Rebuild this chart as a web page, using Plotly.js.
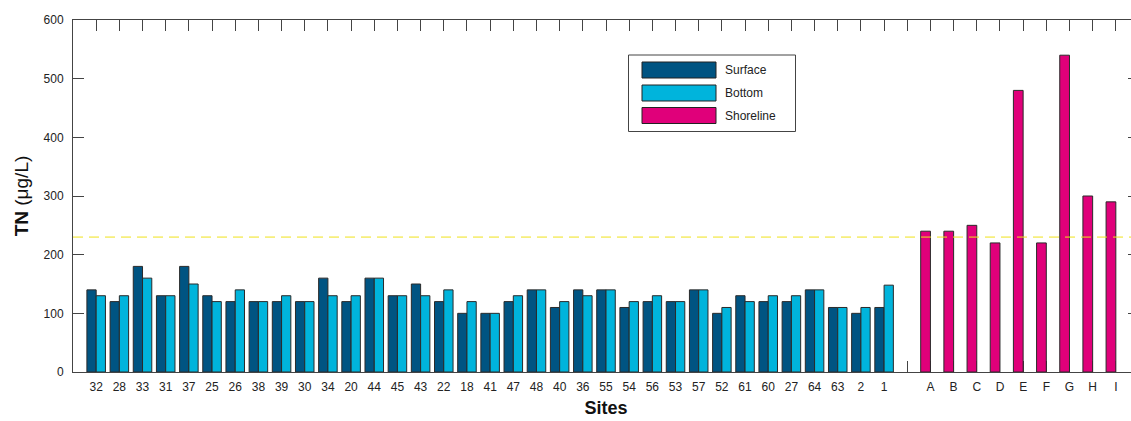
<!DOCTYPE html>
<html>
<head>
<meta charset="utf-8">
<script src="https://cdn.plot.ly/plotly-3.0.1.min.js"></script>
<style>
html, body { margin: 0; padding: 0; overflow: hidden; background: #fff; }
#chart { width: 1150px; height: 421px; }
</style>
</head>
<body>
<div id="chart"></div>
<script>
// Categories (blank slot separates lake sites from shoreline sites)
const sites = ["32","28","33","31","37","25","26","38","39","30","34","20","44","45","43","22","18","41","47","48","40","36","55","54","56","53","57","52","61","60","27","64","63","2","1"];
const blankSlot = [" "];
const shoreSites = ["A","B","C","D","E","F","G","H","I"];

// Values (µg/L)
const surface = [140,120,180,130,180,130,120,120,120,120,160,120,160,130,150,120,100,100,120,140,110,140,140,110,120,120,140,100,130,120,120,140,110,100,110];
const bottom  = [130,130,160,130,150,120,140,120,130,120,130,130,160,130,130,140,120,100,130,140,120,130,140,120,130,120,140,110,120,130,130,140,110,110,148];
const shoreline = [240,240,250,220,480,220,540,300,290];
const threshold = 230;

const legendNames = ["Surface","Bottom","Shoreline"];
const colors = ["#005482","#00b4dc","#e0007a"];

const allCats = sites.concat(blankSlot, shoreSites);
const outline = {color: "#2a2a2a", width: 1};

const traces = [
  {type: "bar", name: legendNames[0], x: sites, y: surface, offset: -0.4, width: 0.4,
   marker: {color: colors[0], line: outline}, showlegend: false},
  {type: "bar", name: legendNames[1], x: sites, y: bottom, offset: 0, width: 0.4,
   marker: {color: colors[1], line: outline}, showlegend: false},
  {type: "bar", name: legendNames[2], x: shoreSites, y: shoreline, offset: -0.42, width: 0.42,
   marker: {color: colors[2], line: outline}, showlegend: false}
];

// Hand-built legend (wide swatches like the original)
const PL = 73, PW = 1066, PT = 20, PH = 352;
const px = v => (v - PL) / PW;
const py = v => (PT + PH - v) / PH;
const shapes = [
  {type: "line", xref: "paper", x0: 0, x1: 1, yref: "y", y0: threshold, y1: threshold,
   line: {color: "#f0e21a", width: 1, dash: "10px,6px"}, layer: "above"},
  {type: "rect", xref: "paper", yref: "paper", x0: px(628.5), x1: px(795.5), y0: py(55), y1: py(131.5),
   line: {color: "#444", width: 1}, fillcolor: "#ffffff", layer: "above"}
];
const annotations = [];
const rowY = [70, 93, 115.5];
for (let i = 0; i < 3; i++) {
  shapes.push({type: "rect", xref: "paper", yref: "paper",
    x0: px(642), x1: px(716), y0: py(rowY[i] - 8), y1: py(rowY[i] + 8),
    fillcolor: colors[i], line: {color: "#222", width: 1}, layer: "above"});
  annotations.push({xref: "paper", yref: "paper", x: px(723), y: py(rowY[i]),
    xanchor: "left", yanchor: "middle", showarrow: false, text: legendNames[i],
    font: {family: "Liberation Sans, Arial, sans-serif", size: 12, color: "#222"}});
}

const axFont = {family: "Liberation Sans, Arial, sans-serif", size: 12, color: "#222"};

const layout = {
  width: 1150, height: 421,
  margin: {l: 73, r: 11, t: 20, b: 49},
  paper_bgcolor: "#fff", plot_bgcolor: "#fff",
  barmode: "overlay",
  showlegend: false,
  font: axFont,
  xaxis: {
    type: "category", categoryorder: "array", categoryarray: allCats,
    range: [-1, allCats.length],
    showline: true, linecolor: "#444", linewidth: 1, mirror: "ticks",
    ticks: "inside", ticklen: 11, tickcolor: "#444", tickwidth: 1,
    showgrid: false, zeroline: false, layer: "below traces",
    tickfont: axFont, ticklabelstandoff: 4,
    title: {text: "<b>Sites</b>", font: {family: "Liberation Sans, Arial, sans-serif", size: 18, color: "#111"}, standoff: 7}
  },
  yaxis: {
    range: [0, 600], tickvals: [0,100,200,300,400,500,600],
    showline: true, linecolor: "#444", linewidth: 1, mirror: "ticks",
    ticks: "inside", ticklen: 11, tickcolor: "#444", tickwidth: 1,
    showgrid: false, zeroline: false,
    tickfont: axFont, ticklabelstandoff: 6,
    title: {text: "<b>TN</b> (μg/L)", font: {family: "Liberation Sans, Arial, sans-serif", size: 19, color: "#111"}, standoff: 9}
  },
  shapes: shapes,
  annotations: annotations
};

Plotly.newPlot("chart", traces, layout, {displayModeBar: false, staticPlot: true});
</script>
</body>
</html>
